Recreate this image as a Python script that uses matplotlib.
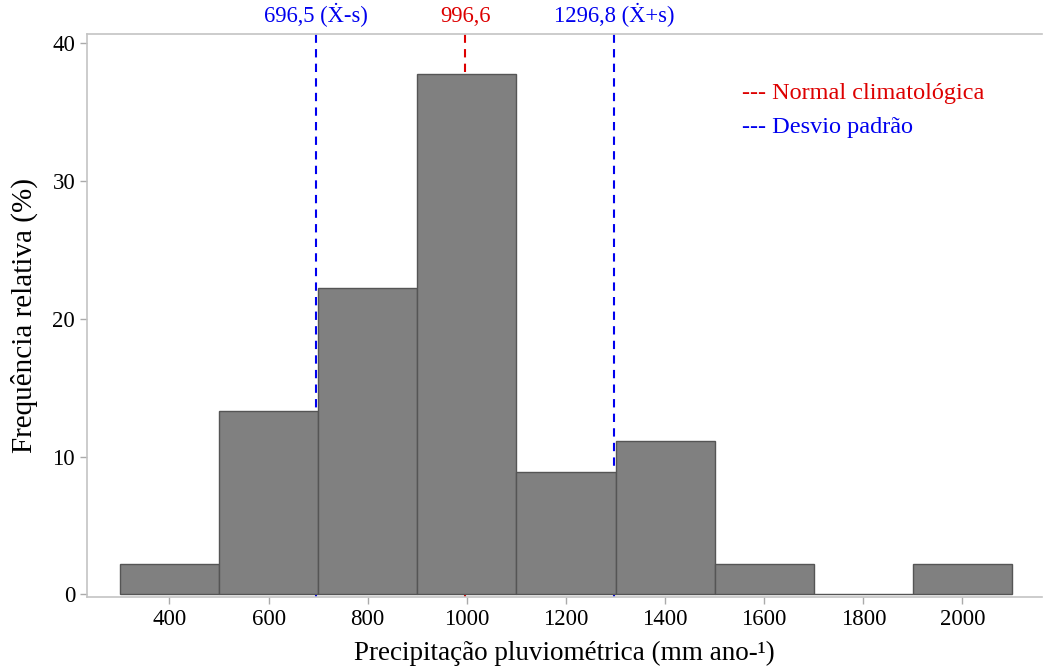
import matplotlib
matplotlib.use('Agg')
import matplotlib.pyplot as plt
import matplotlib.transforms as mtransforms

# histogram bins (mm/ano) and relative frequency (%)
bin_edges = [300, 500, 700, 900, 1100, 1300, 1500, 1700, 1900, 2100]
freq = [2.2, 13.3, 22.2, 37.8, 8.9, 11.1, 2.2, 0.0, 2.2]

media = 996.6
desvio_inf = 696.5
desvio_sup = 1296.8
x_ticks = [400, 600, 800, 1000, 1200, 1400, 1600, 1800, 2000]
y_ticks = [0, 10, 20, 30, 40]

plt.rcParams['font.family'] = ['Liberation Serif', 'DejaVu Serif']

fig = plt.figure(figsize=(10.44, 6.71), dpi=100)
ax = fig.add_axes([0.0833, 0.110, 0.915, 0.840])

lefts = bin_edges[:-1]
widths = [b - a for a, b in zip(bin_edges[:-1], bin_edges[1:])]
ax.bar(lefts, freq, width=widths, align='edge', color='#808080',
       edgecolor='#555555', linewidth=1.0, zorder=3)

ax.axvline(media, color='#dd0000', linestyle=(0, (4, 3)), linewidth=1.5, zorder=2)
ax.axvline(desvio_inf, color='#0000ee', linestyle=(0, (4, 3)), linewidth=1.5, zorder=2)
ax.axvline(desvio_sup, color='#0000ee', linestyle=(0, (4, 3)), linewidth=1.5, zorder=2)

trans = mtransforms.blended_transform_factory(ax.transData, ax.transAxes)
ax.text(desvio_inf, 1.012, '696,5 (Ẋ-s)', color='#0000ee', fontsize=16.3,
        ha='center', va='bottom', transform=trans)
ax.text(media, 1.012, '996,6', color='#dd0000', fontsize=16.3,
        ha='center', va='bottom', transform=trans)
ax.text(desvio_sup, 1.012, '1296,8 (Ẋ+s)', color='#0000ee', fontsize=16.3,
        ha='center', va='bottom', transform=trans)

ax.text(0.686, 0.894, '--- Normal climatológica', color='#dd0000', fontsize=17.5,
        ha='left', va='center', transform=ax.transAxes)
ax.text(0.686, 0.834, '--- Desvio padrão', color='#0000ee', fontsize=17.5,
        ha='left', va='center', transform=ax.transAxes)

ax.set_xlim(233.5, 2161)
ax.set_ylim(-0.2, 40.7)
ax.set_xticks(x_ticks)
ax.set_yticks(y_ticks)
ax.tick_params(axis='both', colors='#aaaaaa', labelcolor='black',
               labelsize=16.5, length=5, width=1, direction='out')

for s in ['left', 'top', 'bottom']:
    ax.spines[s].set_color('#c4c4c4')
    ax.spines[s].set_linewidth(1.2)
ax.spines['right'].set_visible(False)

ax.set_xlabel('Precipitação pluviométrica (mm ano-¹)', fontsize=19.5, labelpad=8)
ax.set_ylabel('Frequência relativa (%)', fontsize=21, labelpad=10)

fig.savefig('out.png', dpi=100)
plt.close(fig)
